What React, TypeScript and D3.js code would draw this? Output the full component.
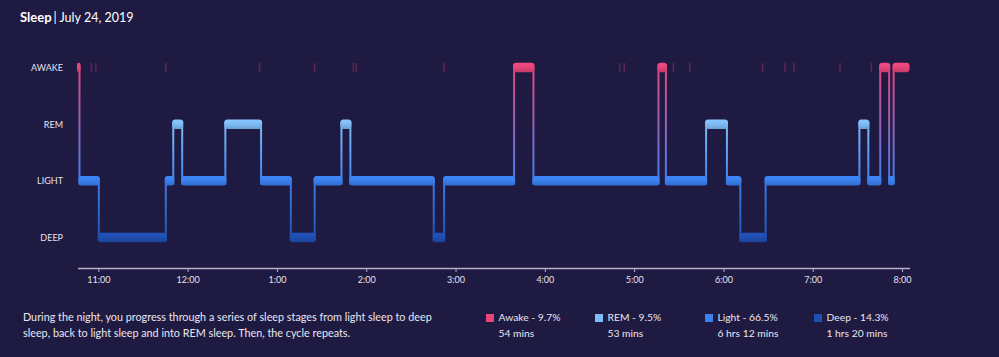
import React from "react";
import * as d3 from "d3";

const stages = ["AWAKE", "REM", "LIGHT", "DEEP"];
const stageColors = ["#e8457c", "#80bdf8", "#3b80ef", "#1f4fb2"];

const segStarts = ["22:46", "22:47", "23:00", "23:45", "23:50", "23:56", "00:25", "00:49", "01:09", "01:25", "01:43", "01:49", "02:45", "02:52", "03:39", "03:52", "05:16", "05:21", "05:48", "06:02", "06:11", "06:28", "07:31", "07:37", "07:45", "07:51", "07:54"];
const segStages = ["AWAKE", "LIGHT", "DEEP", "LIGHT", "REM", "LIGHT", "REM", "LIGHT", "DEEP", "LIGHT", "REM", "LIGHT", "DEEP", "LIGHT", "AWAKE", "LIGHT", "AWAKE", "LIGHT", "REM", "LIGHT", "DEEP", "LIGHT", "REM", "LIGHT", "AWAKE", "LIGHT", "AWAKE"];
const sleepEnd = "08:04";
const axisStart = "22:46";
const axisEnd = "08:05";

const briefWakes = ["22:55", "22:58", "23:45", "00:48", "01:25", "01:51", "01:53", "02:52", "04:50", "04:53", "05:26", "05:37", "06:26", "06:41", "06:47", "07:18", "07:39"];

const legendNames = ["Awake - 9.7%", "REM - 9.5%", "Light - 66.5%", "Deep - 14.3%"];
const legendDurations = ["54 mins", "53 mins", "6 hrs 12 mins", "1 hrs 20 mins"];

const descLines = [
  "During the night, you progress through a series of sleep stages from light sleep to deep",
  "sleep, back to light sleep and into REM sleep. Then, the cycle repeats.",
];

function parseT(s: string): Date {
  const [h, m] = s.split(":").map(Number);
  return h >= 12 ? new Date(2019, 6, 23, h, m) : new Date(2019, 6, 24, h, m);
}

const W = 999;
const H = 357;
const BG = "#1f1a41";
const FONT = "Lato, 'Open Sans', sans-serif";

export default function App() {
  const x = d3.scaleTime().domain([parseT(axisStart), parseT(axisEnd)]).range([78, 910]);
  const y = d3.scalePoint<string>().domain(stages).range([67.5, 237.5]);
  const color = d3.scaleOrdinal<string, string>().domain(stages).range(stageColors);
  const bandH = 9.5;

  const segs = segStarts.map((s, i) => ({
    stage: segStages[i],
    t0: parseT(s),
    t1: parseT(i < segStarts.length - 1 ? segStarts[i + 1] : sleepEnd),
  }));

  const connectors = segs.slice(1).map((s, i) => {
    const prev = segs[i];
    const ya = y(prev.stage)!;
    const yb = y(s.stage)!;
    const topStage = ya < yb ? prev.stage : s.stage;
    const botStage = ya < yb ? s.stage : prev.stage;
    return {
      x: x(s.t0),
      yTop: Math.min(ya, yb) - bandH / 2 + 2,
      yBot: Math.max(ya, yb) + bandH / 2 - 1,
      topColor: color(topStage),
      botColor: color(botStage),
    };
  });

  const ticks = x.ticks(d3.timeHour.every(1)!).filter((t) => t >= parseT("23:00") && t <= parseT("08:00"));
  const fmt = d3.timeFormat("%-I:%M");

  const legendX = [486, 595, 705, 814];

  return (
    <svg width={W} height={H} style={{ position: "absolute", left: 0, top: 0, background: BG }} fontFamily={FONT}>
      <defs>
        {stages.map((s, i) => (
          <linearGradient key={s} id={`band-${i}`} x1="0" y1="0" x2="0" y2="1">
            <stop offset="0" stopColor={d3.color(stageColors[i])!.brighter(0.15).formatHex()} />
            <stop offset="0.45" stopColor={stageColors[i]} />
            <stop offset="1" stopColor={d3.color(stageColors[i])!.darker(0.45).formatHex()} />
          </linearGradient>
        ))}
        {connectors.map((c, i) => (
          <linearGradient key={i} id={`conn-${i}`} gradientUnits="userSpaceOnUse" x1={0} y1={c.yTop} x2={0} y2={c.yBot}>
            <stop offset="0" stopColor={c.topColor} />
            <stop offset="1" stopColor={c.botColor} />
          </linearGradient>
        ))}
      </defs>
      <rect width={W} height={H} fill={BG} />

      <text x={20} y={22} fill="#ffffff" fontSize={13}>
        <tspan fontWeight={700}>Sleep</tspan>
        <tspan fontSize={12.5} dx={2}>| July 24, 2019</tspan>
      </text>

      {stages.map((s) => (
        <text key={s} x={63} y={y(s)! + 3.5} textAnchor="end" fill="#e4e3ef" fontSize={9}>
          {s}
        </text>
      ))}

      {briefWakes.map((t, i) => (
        <rect key={i} x={x(parseT(t)) - 0.8} y={y("AWAKE")! - 4.5} width={1.6} height={9} fill="#e8457c" opacity={0.3} />
      ))}

      {connectors.map((c, i) => (
        <rect key={i} x={c.x - 1} y={c.yTop} width={2} height={c.yBot - c.yTop} fill={`url(#conn-${i})`} />
      ))}

      {segs.map((s, i) => {
        const x0 = x(s.t0);
        const x1 = x(s.t1);
        const si = stages.indexOf(s.stage);
        return (
          <rect
            key={i}
            x={x0 - 1}
            y={y(s.stage)! - bandH / 2}
            width={Math.max(2, x1 - x0 + 2)}
            height={bandH}
            rx={3}
            fill={`url(#band-${si})`}
          />
        );
      })}

      <line x1={78} x2={910} y1={268.5} y2={268.5} stroke="#b4b1c8" strokeWidth={1.5} />
      {ticks.map((t, i) => (
        <g key={i} transform={`translate(${x(t)},0)`}>
          <line y1={268.5} y2={272} stroke="#b4b1c8" strokeWidth={1} />
          <text y={283} textAnchor="middle" fill="#e4e3ef" fontSize={9}>
            {fmt(t)}
          </text>
        </g>
      ))}

      {descLines.map((l, i) => (
        <text key={i} x={23} y={321 + i * 16} fill="#e8e7f1" fontSize={10.8}>
          {l}
        </text>
      ))}

      {legendNames.map((n, i) => (
        <g key={n}>
          <rect x={legendX[i]} y={314} width={8} height={8} fill={stageColors[i]} />
          <text x={legendX[i] + 12.5} y={321} fill="#e8e7f1" fontSize={10.3}>
            {n}
          </text>
          <text x={legendX[i] + 12.5} y={337} fill="#e8e7f1" fontSize={10.3}>
            {legendDurations[i]}
          </text>
        </g>
      ))}
    </svg>
  );
}
